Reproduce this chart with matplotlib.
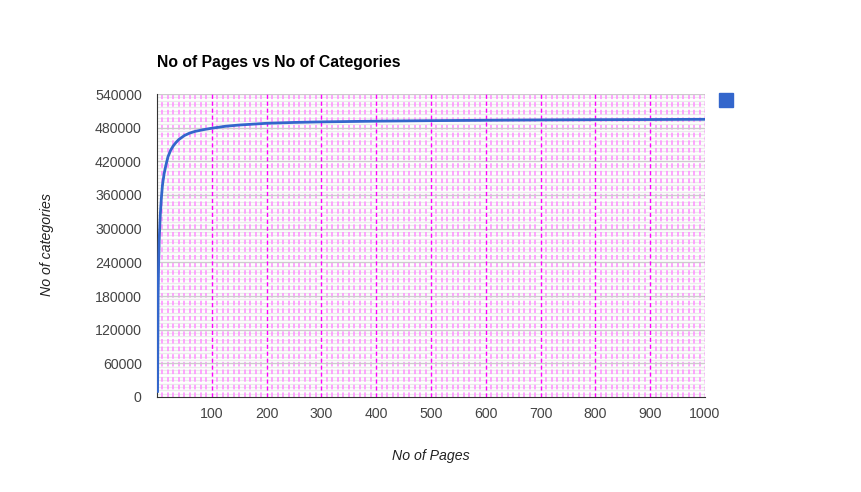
import matplotlib
matplotlib.use('Agg')
from matplotlib import pyplot as plt
from matplotlib.patches import Rectangle

plt.rcParams['font.family'] = ['Liberation Sans', 'DejaVu Sans']

# number of pages vs number of categories
pages = [1, 2, 3, 4, 6, 8, 10, 13, 16, 20, 25, 30, 35, 40, 50, 60, 70, 85,
         100, 125, 150, 200, 250, 300, 400, 500, 600, 700, 800, 900, 1000]
categories = [10000, 180000, 240000, 280000, 325000, 355000, 378000, 398000,
              412000, 428000, 440000, 448000, 454000, 459000, 466000, 470500,
              473500, 476500, 479000, 482500, 484700, 487800, 489300, 490300,
              491600, 492500, 493200, 493800, 494200, 494500, 494900]

xticks = list(range(100, 1001, 100))
yticks = list(range(0, 540001, 60000))

fig = plt.figure(figsize=(8.61, 4.92), dpi=100)
ax = fig.add_axes([157/861, 1-397/492, (705-157)/861, (397-94)/492])
ax.set_xlim(0, 1000)
ax.set_ylim(0, 540000)

# minor grid
for y in range(0, 540001, 6000):
    if y % 60000:
        ax.axhline(y, color='#ebebeb', lw=1, zorder=0)
for x in range(10, 1000, 10):
    if x % 100:
        ax.axvline(x, color='#ff8cff', lw=1.1, ls=(0, (3, 2)), zorder=1)
# major grid
for y in yticks[1:]:
    ax.axhline(y, color='#cccccc', lw=1, zorder=1)
for x in xticks:
    ax.axvline(x, color='#ff00ff', lw=1, ls=(0, (3, 2)), zorder=2)

ax.plot(pages, categories, color='#3366cc', lw=2, zorder=3)

for s in ['top', 'right']:
    ax.spines[s].set_visible(False)
ax.spines['left'].set_color('#333333')
ax.spines['bottom'].set_color('#333333')
ax.set_xticks(xticks)
ax.set_yticks(yticks)
ax.set_yticklabels([str(v) for v in yticks])
ax.tick_params(length=0, labelsize=10.2, labelcolor='#444444')
ax.tick_params(axis='y', pad=11)
ax.tick_params(axis='x', pad=7)

fig.text(157/861, 1-63/492, 'No of Pages vs No of Categories', fontsize=11.3,
         fontweight='bold', va='center', ha='left')
fig.text(431/861, 1-456/492, 'No of Pages', fontsize=10.2, style='italic',
         color='#222222', ha='center', va='center')
fig.text(47/861, 1-245/492, 'No of categories', fontsize=10.2, style='italic',
         color='#222222', ha='center', va='center', rotation=90)

fig.patches.append(Rectangle((719/861, 1-107/492), 14/861, 14/492,
                             transform=fig.transFigure, color='#3366cc'))

fig.savefig('out.png', dpi=100)
